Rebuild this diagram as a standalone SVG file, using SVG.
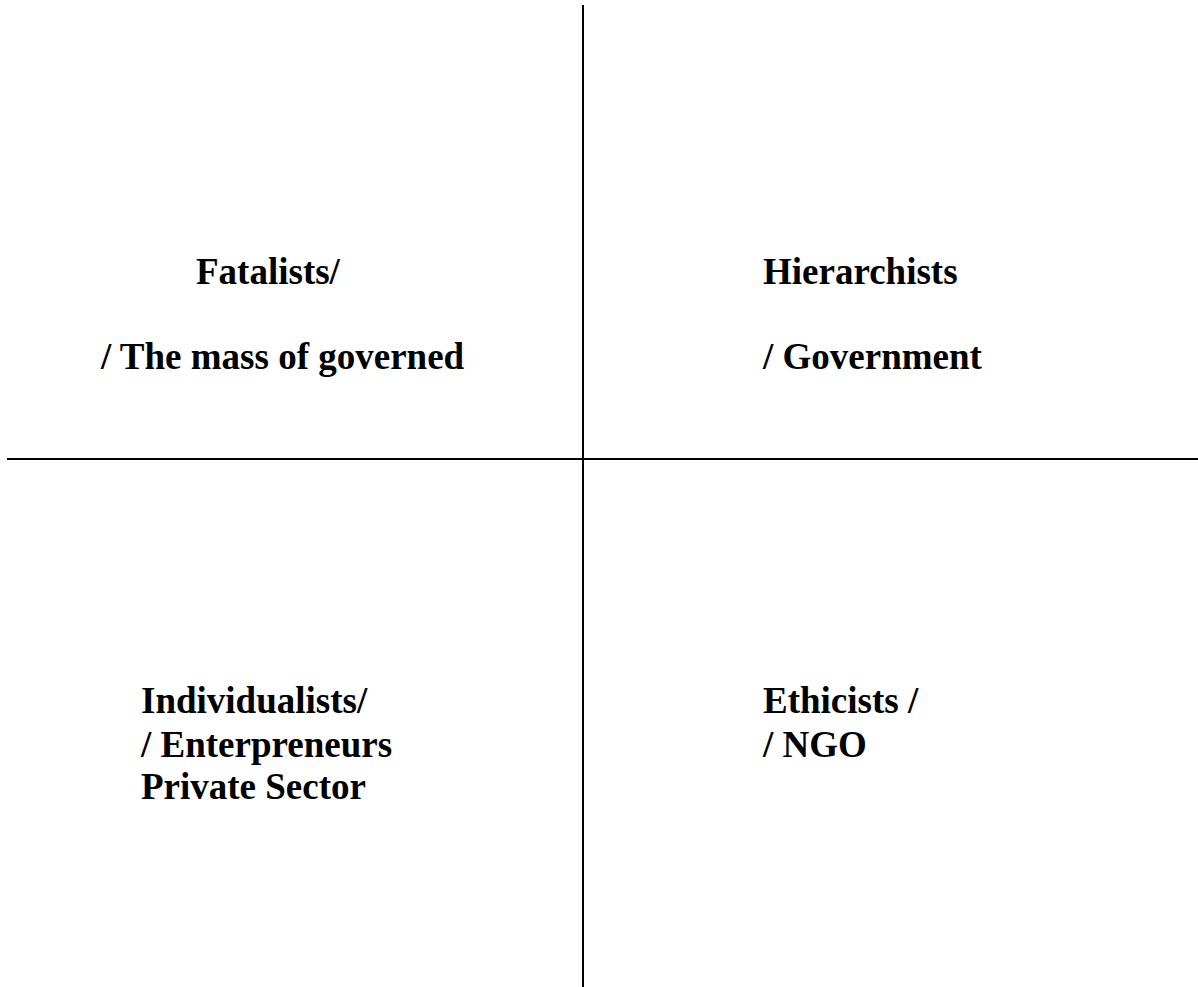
<svg xmlns="http://www.w3.org/2000/svg" width="1198" height="987" viewBox="0 0 1198 987">
<style>
.t{font-family:"Liberation Serif","Times New Roman",serif;font-weight:bold;font-size:37px;fill:#000}
.ln{stroke:#000;stroke-width:2;fill:none}
</style>
<rect width="1198" height="987" fill="#fff"/>
<g id="connectors">
<line class="ln" x1="583" y1="5" x2="583" y2="987"/>
<line class="ln" x1="7" y1="459" x2="1198" y2="459"/>
</g>
<g id="fatalists">
<text class="t" x="196" y="284">Fatalists/</text>
<text class="t" x="101" y="369">/ The mass of governed</text>
</g>
<g id="hierarchists">
<text class="t" x="763" y="284">Hierarchists</text>
<text class="t" x="763" y="369">/ Government</text>
</g>
<g id="individualists">
<text class="t" x="141" y="713">Individualists/</text>
<text class="t" x="141" y="757">/ Enterpreneurs</text>
<text class="t" x="141" y="799">Private Sector</text>
</g>
<g id="ethicists">
<text class="t" x="763" y="713">Ethicists /</text>
<text class="t" x="763" y="757">/ NGO</text>
</g>
</svg>
